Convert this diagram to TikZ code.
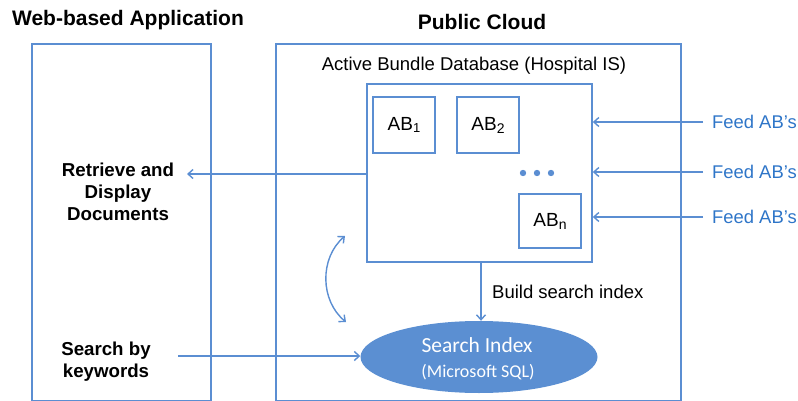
\documentclass[tikz,border=0pt]{standalone}
\usepackage{fontspec}
\setmainfont{Liberation Sans}
\newfontfamily\calfont{Carlito}
\usetikzlibrary{arrows.meta,shapes.geometric}
\definecolor{lineblue}{RGB}{91,142,210}
\definecolor{fillblue}{RGB}{91,143,210}
\definecolor{feedblue}{RGB}{46,117,200}
\tikzset{
  box/.style={draw=lineblue,line width=1.6pt},
  conn/.style={draw=lineblue,line width=1.4pt,-{Straight Barb[length=5pt,width=9pt]}},
  bconn/.style={draw=lineblue,line width=1.4pt,{Straight Barb[length=5pt,width=9pt]}-{Straight Barb[length=5pt,width=9pt]}},
  title/.style={font=\fontsize{21}{24}\selectfont\bfseries,inner sep=0pt},
  lbl/.style={font=\fontsize{18.5}{22}\selectfont,inner sep=0pt},
  blbl/.style={font=\fontsize{18.7}{22}\selectfont\bfseries,inner sep=0pt,align=center},
  feed/.style={font=\fontsize{18.4}{21}\selectfont,text=feedblue,inner sep=0pt,anchor=west},
  abbox/.style={box,minimum width=62pt,minimum height=56pt,inner sep=0pt,font=\fontsize{19}{21}\selectfont},
}
\begin{document}
\begin{tikzpicture}[x=1pt,y=-1pt]
\useasboundingbox (0,0) rectangle (798,401);
% titles
\node[title] (t1) at (128,20) {Web-based Application};
\node[title] (t2) at (482,22) {Public Cloud};
% outer boxes
\draw[box] (32,44) rectangle (211,400.5);
\draw[box] (276,44) rectangle (681,400.5);
\node[lbl] (abd) at (474,66) {Active Bundle Database (Hospital IS)};
% inner box
\node[box,minimum width=225pt,minimum height=178pt,inner sep=0pt] (inner) at (479.5,173) {};
\node[abbox] (ab1) at (404,125) {AB{\fontsize{13}{13}\selectfont\raisebox{-1.5pt}{1}}};
\node[abbox] (ab2) at (488,125) {AB\raisebox{-3pt}{\fontsize{14}{14}\selectfont 2}};
\node[abbox,minimum height=54pt] (abn) at (550,221) {AB\raisebox{-3pt}{\fontsize{14}{14}\selectfont n}};
\foreach \x/\n in {523/d1,537/d2,551/d3}
  \fill[lineblue] (\x,173) circle (3.2pt) coordinate (\n);
% feed
\foreach \y/\n in {122/f1,172/f2,217/f3}{
  \node[feed] (\n) at (712,\y) {Feed AB’s};
  \draw[conn] (703,\y) -- (inner.east |- 0,\y);
}
% retrieve
\node[blbl] (ret) at (118,192) {Retrieve and\\Display\\Documents};
\coordinate (rettip) at (187,174);
\draw[conn] (inner.west |- rettip) -- (rettip);
% ellipse
\node[ellipse,fill=fillblue,minimum width=237pt,minimum height=72pt,inner sep=0pt] (si) at (479,357) {};
\node[text=white,inner sep=0pt,font=\calfont\fontsize{21.5}{24}\selectfont] (si1) at (477,345) {Search Index};
\node[text=white,inner sep=0pt,font=\calfont\fontsize{18}{20}\selectfont] (si2) at (478,372) {(Microsoft SQL)};
\draw[conn] (inner.south -| 481,0) -- (si.north -| 481,0);
\node[lbl,anchor=west] (bsi) at (492,292) {Build search index};
% search
\node[blbl] (sk) at (106,362) {Search by\\keywords};
\coordinate (skstart) at (178,356);
\draw[conn] (skstart) -- (si.west |- skstart);
% curved
\coordinate (ca) at (345,236);
\coordinate (cb) at (346,322);
\draw[bconn] (ca) to[bend right=50] (cb);
\end{tikzpicture}
\end{document}
